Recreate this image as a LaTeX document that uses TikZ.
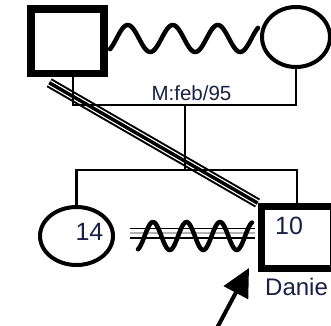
\documentclass[tikz,border=0pt]{standalone}
\usepackage{fontspec}
\setmainfont{Liberation Sans}
\usetikzlibrary{arrows.meta,shapes.geometric,backgrounds}
\definecolor{labelblue}{RGB}{25,32,70}
\begin{document}
\begin{tikzpicture}[x=1pt,y=-1pt,
		male/.style={draw,rectangle,line width=7.5pt,inner sep=0pt},
		female/.style={draw,ellipse,line width=4pt,inner sep=0pt},
		relline/.style={line width=2.2pt},
		wave/.style={line width=4.5pt,line cap=round},
		tag/.style={text=labelblue,inner sep=0pt,font=\fontsize{25}{28}\selectfont}]
	\useasboundingbox (0,0) rectangle (331,325);
	\clip (0,0) rectangle (331,325);
	% parents
	\node[male,minimum width=73pt,minimum height=64.5pt] (father) at (67.5,41.25) {};
	\node[female,minimum width=68pt,minimum height=60pt] (mother) at (296,37) {};
	\draw[wave] plot[domain=110:258,samples=120,smooth] (\x,{38.5-13.5*sin((\x-116.5)*8)});
	\coordinate (mar) at (73,105);
	\draw[relline] (mar |- father.south) -- (mar) -| (mother.south);
	\node[text=labelblue,inner sep=0pt,anchor=base,font=\fontsize{20.5}{24}\selectfont] (mdate) at (191.5,100) {M:feb/95};
	% children
	\node[female,minimum width=73pt,minimum height=58pt] (daughter) at (76.5,236) {};
	\node[male,line width=7pt,minimum width=72.5pt,minimum height=62pt] (index) at (297.25,237.5) {};
	\node[tag] (age14) at (89.5,231.5) {14};
	\node[tag] (age10) at (289,226) {10};
	\node[tag,anchor=base west,font=\fontsize{24}{28}\selectfont] (name) at (265,295) {Danie};
	\coordinate (sib) at (185,170);
	\draw[line width=1.5pt] (sib |- mar) -- (sib);
	\draw[relline] (daughter.north) |- (sib) -| (index.north);
	% relation between siblings
	\draw[line width=1.5pt] (130,228.5) -- (255,228.5);
	\draw[line width=1.5pt,gray!60] (130,233) -- (255,233);
	\draw[line width=1.8pt] (130,238) -- (255,238);
	\draw[wave] plot[domain=138:252,samples=120,smooth] (\x,{236-14*sin((\x-144.6)*10.746)});
	% father to index
	\begin{pgfonlayer}{background}
		\draw[line width=10pt] ([shift={(22,5.5)}]father.south west) -- (index.north west);
		\draw[line width=6pt,white] ([shift={(22,5.5)}]father.south west) -- (index.north west);
		\draw[line width=3.5pt] ([shift={(22,5.5)}]father.south west) -- (index.north west);
	\end{pgfonlayer}
	% proband arrow
	\coordinate (tail) at (217,328);
	\draw[line width=4pt,-{Triangle[length=28pt,width=27pt]}] (tail) -- (249,268);
\end{tikzpicture}
\end{document}
